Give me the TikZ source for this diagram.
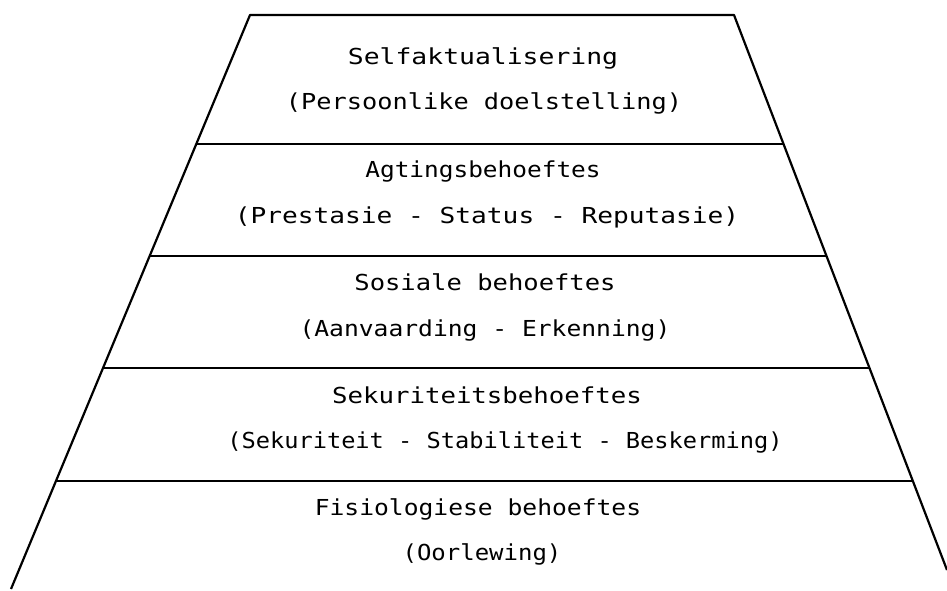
\documentclass[tikz,border=0pt]{standalone}
\usepackage{graphicx}
\usepackage{fontspec}
\newfontfamily\typer{DejaVu Sans Mono}
\begin{document}
\begin{tikzpicture}[x=1pt,y=-1pt,
  edge/.style={line width=2.2pt, line join=round},
  sep/.style={line width=1.8pt},
  lbl/.style={font=\typer\fontsize{22}{26}\selectfont, inner sep=0pt, anchor=base}]
\useasboundingbox (0,0) rectangle (947,590);
\coordinate (tl) at (250,15);
\coordinate (tr) at (734,15);
\coordinate (bl) at (11,589);
\coordinate (br) at (947,570);
\draw[edge] (bl) -- (tl) -- (tr) -- (br);
\foreach \yy/\nm in {144/a,256/b,368/c,481/d}{
  \coordinate (l\nm) at (intersection of tl--bl and 0,\yy--947,\yy);
  \coordinate (r\nm) at (intersection of tr--br and 0,\yy--947,\yy);
  \draw[sep] (l\nm) -- (r\nm);
}
\node[lbl] (t1a) at (483,64) {\scalebox{1.2}[1]{Selfaktualisering}};
\node[lbl] (t1b) at (484,109) {\scalebox{1.15}[1]{(Persoonlike doelstelling)}};
\node[lbl] (t2a) at (483,177) {\scalebox{1.11}[1]{Agtingsbehoeftes}};
\node[lbl] (t2b) at (487,223) {\scalebox{1.19}[1]{(Prestasie - Status - Reputasie)}};
\node[lbl] (t3a) at (485,290) {\scalebox{1.16}[1]{Sosiale behoeftes}};
\node[lbl] (t3b) at (485,336) {\scalebox{1.12}[1]{(Aanvaarding - Erkenning)}};
\node[lbl] (t4a) at (487,403) {\scalebox{1.17}[1]{Sekuriteitsbehoeftes}};
\node[lbl] (t4b) at (505,448) {\scalebox{1.075}[1]{(Sekuriteit - Stabiliteit - Beskerming)}};
\node[lbl] (t5a) at (478,515) {\scalebox{1.12}[1]{Fisiologiese behoeftes}};
\node[lbl] (t5b) at (482,560) {\scalebox{1.09}[1]{(Oorlewing)}};
\end{tikzpicture}
\end{document}
